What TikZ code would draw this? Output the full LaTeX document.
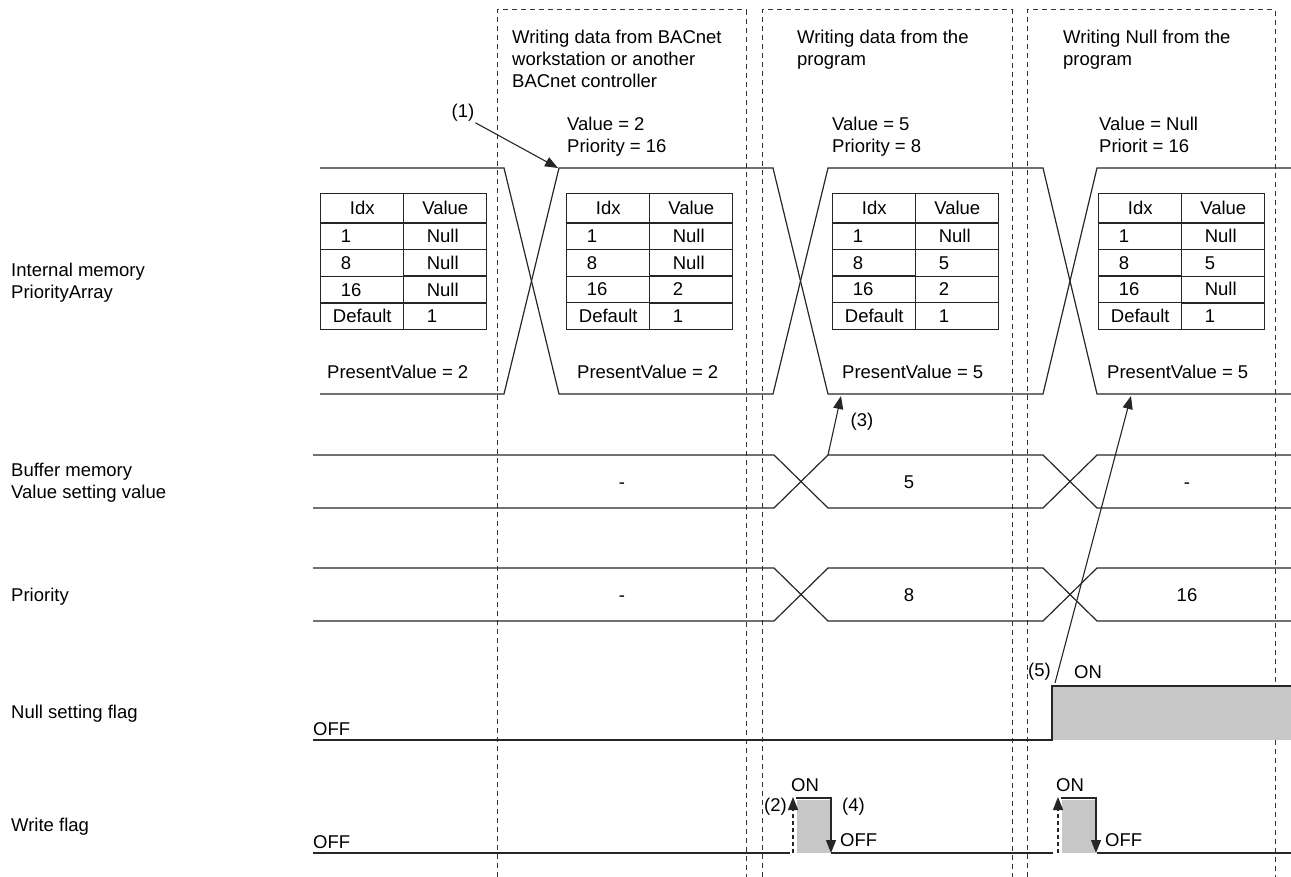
\documentclass[tikz,border=0pt]{standalone}
\usepackage{fontspec}
\setmainfont{Liberation Sans}
\usetikzlibrary{matrix,arrows.meta}
\newcommand\lcell[1]{\makebox[43pt][l]{#1}}
\newcommand\rcell[1]{\makebox[37pt][l]{#1}}

\begin{document}
\begin{tikzpicture}[x=1pt,y=-1pt,font=\fontsize{18.5}{22}\selectfont,
		sig/.style={line width=1.2pt, draw=black!85},
		frame/.style={line width=1pt, draw=black!80, dash pattern=on 5pt off 4pt},
		arr/.style={line width=1.1pt, draw=black!85, -{Triangle[length=13pt,width=10pt]}},
		txt/.style={inner sep=0pt, anchor=base west, align=left},
		val/.style={inner sep=0pt, text height=13pt, text depth=0pt},
		on/.style={fill=black!22},
		prio/.style={matrix of nodes, anchor=north west, inner sep=0pt,
		column sep=-1.1pt, row sep=-1.1pt,
		nodes={draw=black!85, line width=1.1pt, minimum width=83pt, minimum height=26.5pt, inner sep=0pt},
		row 1/.style={nodes={minimum height=29pt}}}]
		\useasboundingbox (0,0) rectangle (1291,877);
		\foreach \l/\r in {497/746, 762/1012, 1027/1275}
			\draw[frame] (\l,877) -- (\l,10) -- (\r,10) -- (\r,877);
		
		\node[txt] (hd1) at (512,88) {Writing data from BACnet\\workstation or another\\BACnet controller};
		\node[txt] (hd2) at (797,66) {Writing data from the\\program};
		\node[txt] (hd3) at (1063,66) {Writing Null from the\\program};
		\node[txt] (wr2) at (567,153) {Value = 2\\Priority = 16};
		\node[txt] (wr3) at (832,153) {Value = 5\\Priority = 8};
		\node[txt] (wr4) at (1099,153) {Value = Null\\Priorit = 16};
		
		\node[txt] (lmem) at (11,299) {Internal memory\\PriorityArray};
		\node[txt] (lbuf) at (11,498) {Buffer memory\\Value setting value};
		\node[txt] (lpri) at (11,601) {Priority};
		\node[txt] (lnul) at (11,718) {Null setting flag};
		\node[txt] (lwr) at (11,831) {Write flag};
		
		\matrix[prio] (tbl1) at (320,193) {
				Idx & Value\\
				\lcell{1} & \rcell{Null}\\
				\lcell{8} & \rcell{Null}\\
				\lcell{16} & \rcell{Null}\\
				Default & \rcell{1}\\};
		\matrix[prio] (tbl2) at (566,193) {
				Idx & Value\\
				\lcell{1} & \rcell{Null}\\
				\lcell{8} & \rcell{Null}\\
				\lcell{16} & \rcell{2}\\
				Default & \rcell{1}\\};
		\matrix[prio] (tbl3) at (832,193) {
				Idx & Value\\
				\lcell{1} & \rcell{Null}\\
				\lcell{8} & \rcell{5}\\
				\lcell{16} & \rcell{2}\\
				Default & \rcell{1}\\};
		\matrix[prio] (tbl4) at (1098,193) {
				Idx & Value\\
				\lcell{1} & \rcell{Null}\\
				\lcell{8} & \rcell{5}\\
				\lcell{16} & \rcell{Null}\\
				Default & \rcell{1}\\};
		\foreach \t in {tbl1,tbl2,tbl3,tbl4}
			\draw[line width=2.4pt, black!85] (\t-1-1.south west) -- (\t-1-2.south east);
		
		\node[txt] (pv1) at (327,378) {PresentValue = 2};
		\node[txt] (pv2) at (577,378) {PresentValue = 2};
		\node[txt] (pv3) at (842,378) {PresentValue = 5};
		\node[txt] (pv4) at (1107,378) {PresentValue = 5};
		
		\draw[sig] (320,168) -- (504,168) -- (559,394) -- (773,394) -- (828,168) -- (1043,168) -- (1097,394) -- (1291,394);
		\draw[sig] (320,394) -- (504,394) -- (559,168) -- (773,168) -- (828,394) -- (1043,394) -- (1097,168) -- (1291,168);
		\foreach \t/\b in {455/508, 568/621} {
			\draw[sig] (313,\t) -- (774,\t) -- (828,\b) -- (1043,\b) -- (1097,\t) -- (1291,\t);
			\draw[sig] (313,\b) -- (774,\b) -- (828,\t) -- (1043,\t) -- (1097,\b) -- (1291,\b);
		}
		\node[val] (buf1) at (622,482) {-};
		\node[val] (buf2) at (909,482) {5};
		\node[val] (buf3) at (1187,482) {-};
		\node[val] (pri1) at (622,595) {-};
		\node[val] (pri2) at (909,595) {8};
		\node[val] (pri3) at (1187,595) {16};
		
		\fill[on] (1052,686) rectangle (1291,740);
		\draw[sig] (313,740) -- (1052,740) -- (1052,686) -- (1291,686);
		\node[txt] (off1) at (313,735) {OFF};
		\node[txt] (on1) at (1074,678) {ON};
		
		\draw[sig] (313,853) -- (790,853);
		\draw[sig] (831,853) -- (1053,853);
		\draw[sig] (1097,853) -- (1291,853);
		\foreach \x in {793,1058} {
			\fill[on] ({\x+4},800) rectangle ({\x+37},853);
			\draw[arr, dash pattern=on 4pt off 3pt] (\x,853) -- (\x,797);
			\draw[arr] ({\x+3},798) -- ({\x+38},798) -- ({\x+38},853);
			\node[txt] at ({\x-2},791) {ON};
			\node[txt] at ({\x+47},846) {OFF};
		}
		\node[txt] (off2) at (313,848) {OFF};
		
		\node[inner sep=1pt] (n1) at (463,113) {(1)};
		\coordinate (pvin2) at (558,168);
		\draw[arr] (n1.south east) -- (pvin2);
		\node (n2) [inner sep=0pt, anchor=east] at (787,807) {(2)};
		\node (n3) at (862,422) {(3)};
		\coordinate (bufup) at (828,455);
		\coordinate (pvin3) at (841,396);
		\draw[arr] (bufup) -- (pvin3);
		\node (n4) [inner sep=0pt, anchor=west] at (842,807) {(4)};
		\node (n5) [inner sep=0pt, anchor=east] at (1051,672) {(5)};
		\coordinate (nrise) at (1055,683);
		\coordinate (pvin4) at (1131,396);
		\draw[arr] (nrise) -- (pvin4);
		
	\end{tikzpicture}
\end{document}
